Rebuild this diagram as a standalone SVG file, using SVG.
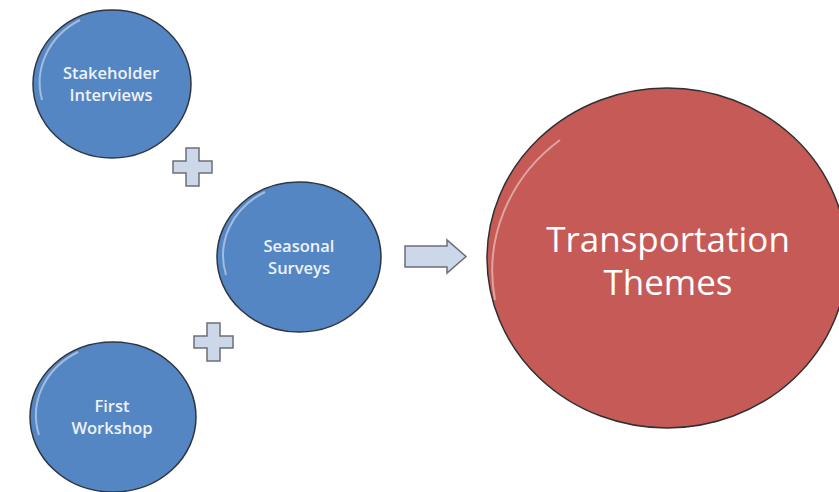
<svg xmlns="http://www.w3.org/2000/svg" width="839" height="492" viewBox="0 0 839 492">
<defs>
<style>
.blue{fill:#5586c4;stroke:#2f3640;stroke-width:1.5}
.red{fill:#c55a57;stroke:#2f3033;stroke-width:1.5}
.hl{fill:none;stroke:#ffffff;stroke-opacity:0.45;stroke-width:2}
.lbl{font-family:"Open Sans","Liberation Sans",sans-serif;fill:#ffffff;text-anchor:middle}
.small{font-size:16.5px;font-weight:600;fill:#eef2f8}
.big{font-size:35px}
.sym{fill:#cdd7ea;stroke:#6b6f78;stroke-width:1.5}
</style>
</defs>
<rect width="839" height="492" fill="#ffffff"/>
<g id="connectors">
<path class="sym" d="M186,148 h13 v13 h13 v12 h-13 v13 h-13 v-13 h-13 v-12 h13 z"/>
<path class="sym" d="M207,323 h13 v13 h13 v12 h-13 v13 h-13 v-13 h-13 v-12 h13 z"/>
<path class="sym" d="M405,246 h42 v-6 l19,16.5 l-19,16.5 v-6 h-42 z"/>
</g>
<g id="stakeholder">
<ellipse class="blue" cx="112" cy="84" rx="79" ry="74"/>
<path class="hl" d="M42,100 A76,71 0 0 1 80,20"/>
<text class="lbl small" x="111" y="79">Stakeholder</text>
<text class="lbl small" x="111" y="101">Interviews</text>
</g>
<g id="seasonal">
<ellipse class="blue" cx="299" cy="257" rx="82" ry="75"/>
<path class="hl" d="M226,275 A79,72 0 0 1 265,192"/>
<text class="lbl small" x="299" y="252">Seasonal</text>
<text class="lbl small" x="299" y="274">Surveys</text>
</g>
<g id="workshop">
<ellipse class="blue" cx="113" cy="417" rx="83" ry="75"/>
<path class="hl" d="M39,435 A80,72 0 0 1 78,352"/>
<text class="lbl small" x="112" y="412">First</text>
<text class="lbl small" x="112" y="434">Workshop</text>
</g>
<g id="themes">
<ellipse class="red" cx="667" cy="258" rx="180" ry="170"/>
<path class="hl" d="M495,300 A176,166 0 0 1 560,140"/>
<text class="lbl big" x="668" y="252">Transportation</text>
<text class="lbl big" x="668" y="295">Themes</text>
</g>
</svg>
